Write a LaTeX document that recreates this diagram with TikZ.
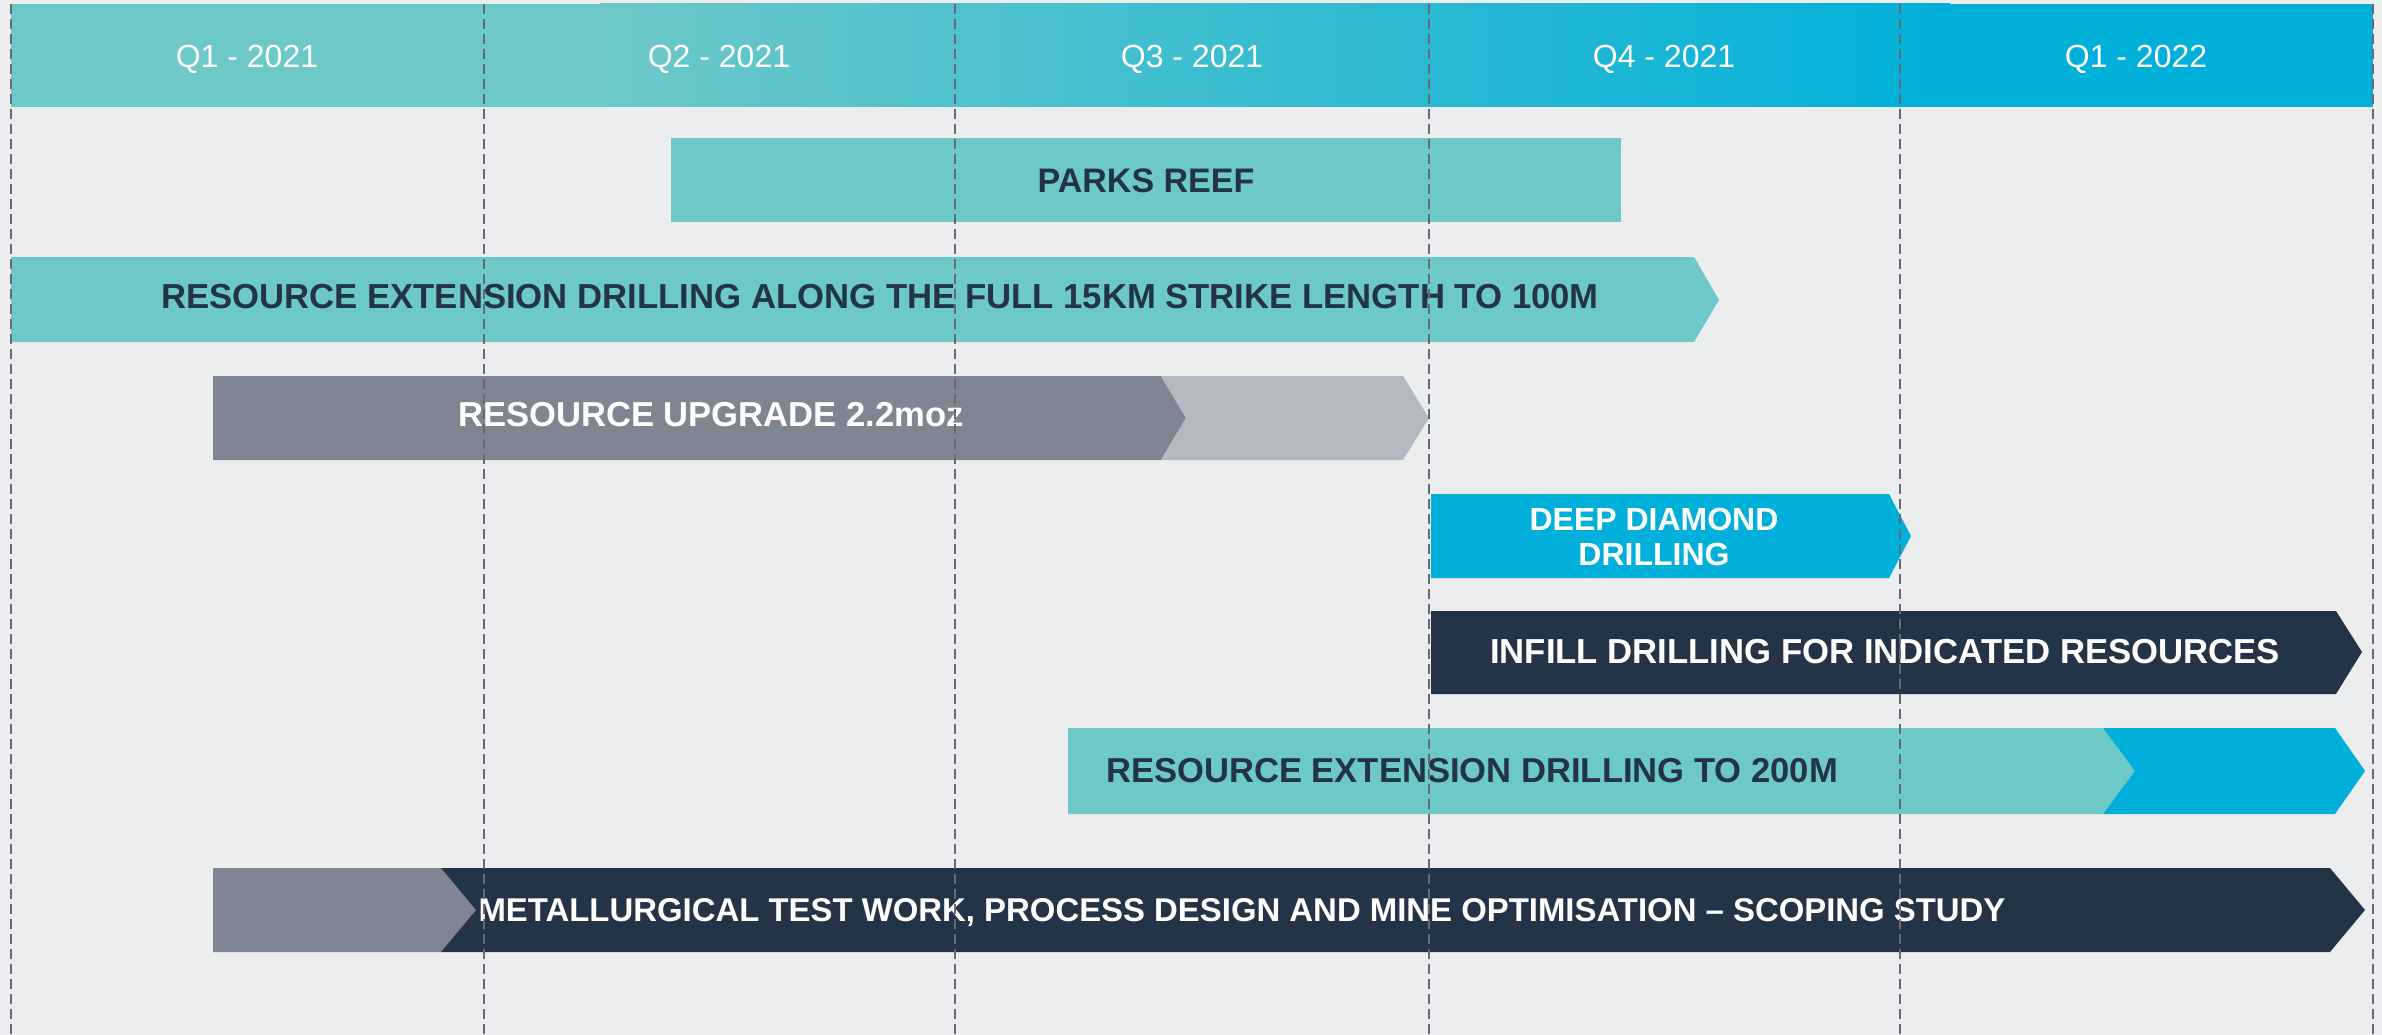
\documentclass[tikz,border=0pt]{standalone}
\usepackage{fontspec}
\setmainfont{Liberation Sans}
\definecolor{tealc}{HTML}{6DC8C8}
\definecolor{bluec}{HTML}{00B0DA}
\definecolor{navyc}{HTML}{243447}
\definecolor{dgrayc}{HTML}{7F8591}
\definecolor{lgrayc}{HTML}{B3B8C1}
\definecolor{bgc}{HTML}{ECEDEF}
\definecolor{guidec}{HTML}{666A74}
\begin{document}
\begin{tikzpicture}[x=1pt,y=-1pt,
  qlabel/.style={font=\fontsize{32}{38}\selectfont, text=white, inner sep=0, anchor=base},
  darklabel/.style={font=\fontsize{34}{40}\selectfont\bfseries, text=navyc, inner sep=0, anchor=base},
  lightlabel/.style={font=\fontsize{34}{40}\selectfont\bfseries, text=white, inner sep=0, anchor=base},
  fs/.style={font=\fontsize{#1}{#1}\selectfont\bfseries},
  guide/.style={draw=guidec, line width=2pt, dash pattern=on 10pt off 5pt}]
\useasboundingbox (0,0) rectangle (2382,1035);
\fill[bgc] (0,0) rectangle (2382,1035);
% header band
\fill[tealc] (11,4) rectangle (601,107);
\shade[left color=tealc, right color=bluec] (600,4) rectangle (1950,107);
\fill[bluec] (1949,4) rectangle (2373,107);
\node[qlabel] (q1) at (247,68) {Q1 - 2021};
\node[qlabel] (q2) at (719,68) {Q2 - 2021};
\node[qlabel] (q3) at (1192,68) {Q3 - 2021};
\node[qlabel] (q4) at (1664,68) {Q4 - 2021};
\node[qlabel] (q5) at (2136,68) {Q1 - 2022};
% bars
\fill[tealc] (671,138) rectangle (1621,222);
\fill[tealc] (11,257) -- (1694,257) -- (1719,300) -- (1694,342) -- (11,342) -- cycle;
\fill[dgrayc] (213,376) -- (1161,376) -- (1186,418) -- (1161,460) -- (213,460) -- cycle;
\fill[lgrayc] (1161,376) -- (1403,376) -- (1429,418) -- (1403,460) -- (1161,460) -- (1186,418) -- cycle;
\fill[bluec] (1431,494) -- (1889,494) -- (1911,536) -- (1889,578) -- (1431,578) -- cycle;
\fill[navyc] (1431,611) -- (2336,611) -- (2362,652) -- (2336,694) -- (1431,694) -- cycle;
\fill[tealc] (1068,728) -- (2103,728) -- (2135,771) -- (2103,814) -- (1068,814) -- cycle;
\fill[bluec] (2103,728) -- (2335,728) -- (2365,771) -- (2335,814) -- (2103,814) -- (2135,771) -- cycle;
\fill[dgrayc] (213,868) -- (441,868) -- (476,910) -- (441,952) -- (213,952) -- cycle;
\fill[navyc] (441,868) -- (2330,868) -- (2365,910) -- (2330,952) -- (441,952) -- (476,910) -- cycle;
% labels
\node[darklabel] (parks) at (1146,193) {PARKS REEF};
\node[darklabel, fs=34.7] (along) at (880,308) {RESOURCE EXTENSION DRILLING ALONG THE FULL 15KM STRIKE LENGTH TO 100M};
\node[lightlabel, fs=34.6] (upgrade) at (711,426) {RESOURCE UPGRADE 2.2moz};
\node[lightlabel, anchor=center, align=center, font=\fontsize{32}{35}\selectfont\bfseries] (deep) at (1654,537) {DEEP DIAMOND\\DRILLING};
\node[lightlabel, fs=34.7] (infill) at (1885,663) {INFILL DRILLING FOR INDICATED RESOURCES};
\node[darklabel, fs=34.6] (ext200) at (1472,782) {RESOURCE EXTENSION DRILLING TO 200M};
\node[lightlabel, fs=32.9] (metal) at (1242,921) {METALLURGICAL TEST WORK, PROCESS DESIGN AND MINE OPTIMISATION – SCOPING STUDY};
% quarter guides
\foreach \i/\x in {0/11,1/484,2/955,3/1429,4/1900,5/2373}{
  \coordinate (gt\i) at (\x,4);
  \coordinate (gb\i) at (\x,1035);
  \draw[guide] (gt\i) -- (gb\i);
}
\end{tikzpicture}
\end{document}
